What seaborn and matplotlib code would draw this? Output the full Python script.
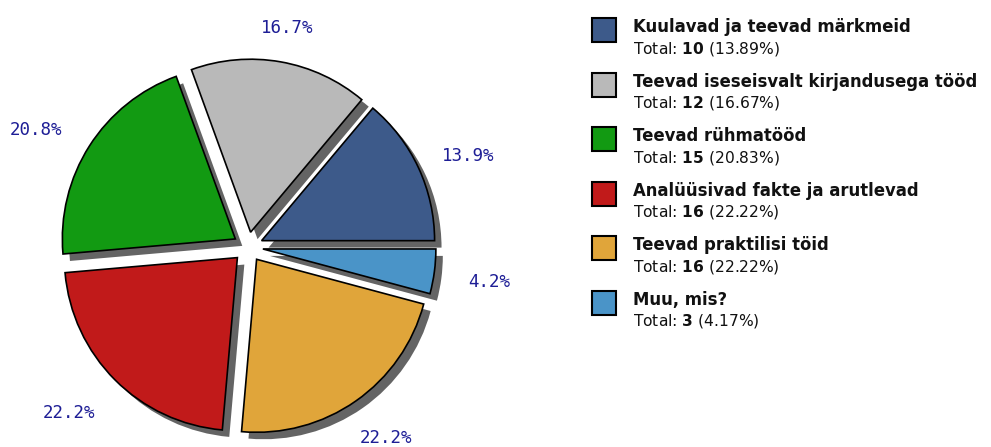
import matplotlib
matplotlib.use("Agg")
import numpy as np
import seaborn as sns
import matplotlib.pyplot as plt
from matplotlib import patheffects
from matplotlib.patches import Rectangle

sns.set_theme(style="white")
plt.rcParams['font.family'] = ['DejaVu Sans']
plt.rcParams['mathtext.fontset'] = 'custom'
plt.rcParams['mathtext.rm'] = 'DejaVu Sans'
plt.rcParams['mathtext.bf'] = 'DejaVu Sans:bold'

# data
categories = ["Kuulavad ja teevad märkmeid",
              "Teevad iseseisvalt kirjandusega tööd",
              "Teevad rühmatööd",
              "Analüüsivad fakte ja arutlevad",
              "Teevad praktilisi töid",
              "Muu, mis?"]
counts = [10, 12, 15, 16, 16, 3]
colors = ["#3d5a8a", "#b9b9b9", "#129a12", "#c11a1a", "#e0a53a", "#4a94c8"]
total = sum(counts)

W, H = 991, 447
fig = plt.figure(figsize=(W / 100, H / 100), dpi=100)

R = 173            # pie radius in px
cx, cy = 248, H - 247
ax = fig.add_axes([0, 0, 500 / W, 1])
explode = [15 / R] * len(counts)

# shadow pie first so that no shadow lands on a slice
shadow = [patheffects.SimplePatchShadow(offset=(5, -5), shadow_rgbFace='#646464', alpha=1)]
ax.pie(counts, startangle=0, explode=explode, colors=colors,
       wedgeprops=dict(linewidth=1.2, edgecolor='#646464', path_effects=shadow))

wedges, _, autotexts = ax.pie(
    counts, startangle=0, explode=explode, colors=colors, autopct='%.1f%%',
    wedgeprops=dict(edgecolor='black', linewidth=1.2),
    textprops=dict(color='#1e1e96', fontfamily='DejaVu Sans Mono', fontsize=12.6))

# labels sit on a slightly flattened ring around each slice
for w, t in zip(wedges, autotexts):
    th = np.radians((w.theta1 + w.theta2) / 2)
    t.set_position((w.center[0] + (232 * np.cos(th) - 4) / R,
                    w.center[1] + (212 * np.sin(th) - 5) / R))
    t.set_ha('center')
    t.set_va('center')

ax.set_xlim(-cx / R, (500 - cx) / R)
ax.set_ylim(-cy / R, (H - cy) / R)
ax.axis('off')

# legend
for i, (name, n, col) in enumerate(zip(categories, counts, colors)):
    top = 18 + i * 54.6
    fig.add_artist(Rectangle((592 / W, 1 - (top + 24) / H), 24 / W, 24 / H,
                             transform=fig.transFigure, facecolor=col,
                             edgecolor='black', lw=1.5))
    fig.text(633 / W, 1 - (top + 14) / H, name, fontsize=11.9,
             fontweight='bold', va='baseline', color='#111111')
    fig.text(633 / W, 1 - (top + 35) / H,
             f"Total: $\\mathbf{{{n}}}$ ({n / total * 100:.2f}%)",
             fontsize=11.2, va='baseline', color='#111111')

fig.savefig('out.png', dpi=100)
